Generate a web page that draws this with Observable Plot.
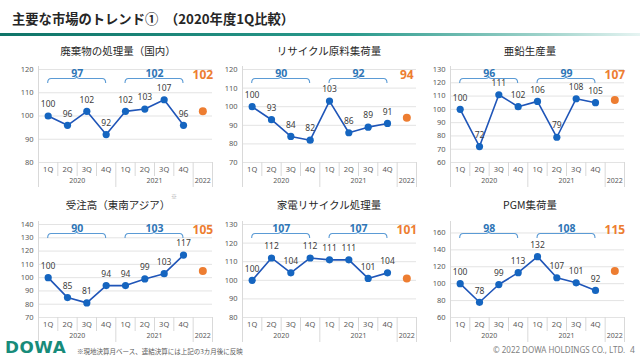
<!DOCTYPE html>
<html><head><meta charset="utf-8">
<script src="https://cdn.jsdelivr.net/npm/d3@7"></script>
<script src="https://cdn.jsdelivr.net/npm/@observablehq/plot@0.6"></script>
<style>
body{margin:0;width:640px;height:360px;background:#fff;position:relative;overflow:hidden;font-family:"Noto Sans CJK JP","Noto Sans",sans-serif;}
.abs{position:absolute;white-space:nowrap;}
.ptitle{position:absolute;font-size:10.5px;color:#262626;transform:translate(-50%,-50%);white-space:nowrap;}
</style></head><body>
<div class="abs" style="left:12px;top:9px;font-size:13.3px;font-weight:bold;color:#262626;line-height:20px;">主要な市場のトレンド①　（2020年度1Q比較）</div>
<div class="abs" style="left:0;top:33px;width:640px;height:2.5px;background:linear-gradient(90deg,#0f7468 0%,#2a9a8c 55%,#9fd3cb 85%,#e6f4f2 100%)"></div>
<div id="root"></div>
<div class="abs" style="left:171px;top:192px;font-size:6px;color:#a6a6a6;">※</div>
<div class="abs" style="left:5px;top:339px;font-family:'DejaVu Sans';font-weight:bold;font-size:15px;letter-spacing:0.5px;color:#178b7a;line-height:18px;transform:scaleX(1.12);transform-origin:left;">DOWA</div>
<div class="abs" style="left:77px;top:346px;font-size:6.5px;color:#595959;line-height:10px;">※現地決算月ベース、連結決算には上記の3カ月後に反映</div>
<div class="abs" style="left:493px;top:344px;font-size:8px;color:#7f7f7f;line-height:12px;font-family:'Noto Sans';">© 2022 DOWA HOLDINGS CO., LTD.</div>
<div class="abs" style="left:630px;top:344px;font-size:8.5px;color:#7f7f7f;line-height:12px;font-family:'Noto Sans';">4</div>
<script>
// ---- data ----
const quarterLabels = ["1Q","2Q","3Q","4Q","1Q","2Q","3Q","4Q"];
const yearLabels = ["2020","2021","2022"];
const panelTitles = ["廃棄物の処理量（国内）","リサイクル原料集荷量","亜鉛生産量","受注高（東南アジア）","家電リサイクル処理量","PGM集荷量"];

const wasteQ     = [100, 96, 102, 92, 102, 103, 107, 96];
const recycleQ   = [100, 93, 84, 82, 103, 86, 89, 91];
const zincQ      = [100, 72, 111, 102, 106, 79, 108, 105];
const ordersQ    = [100, 85, 81, 94, 94, 99, 103, 117];
const applianceQ = [100, 112, 104, 112, 111, 111, 101, 104];
const pgmQ       = [100, 78, 99, 113, 132, 107, 101, 92];

const wasteAvg = [97, 102];
const recycleAvg = [90, 92];
const zincAvg = [96, 99];
const ordersAvg = [90, 103];
const applianceAvg = [107, 107];
const pgmAvg = [98, 108];

const fy2022 = [102, 94, 107, 105, 101, 115];

const wasteTicks = [80, 90, 100, 110, 120];
const recycleTicks = [70, 80, 90, 100, 110, 120];
const zincTicks = [60, 70, 80, 90, 100, 110, 120, 130];
const ordersTicks = [70, 80, 90, 100, 110, 120, 130, 140];
const applianceTicks = [80, 90, 100, 110, 120, 130];
const pgmTicks = [60, 80, 100, 120, 140, 160];
const pgmDomainMax = 170;

// ---- layout ----
const BLUE_LINE = "#1f55b8", BLUE_DOT = "#1565c0", BRACE = "#5b9bd5", AVG = "#2e75b6", ORANGE = "#ed7d31";
const W = 215, H = 150, ML = 38, MR = 3, MT = 29, MB = 28;
const FH = H - MT - MB;

const panels = [
  {t: panelTitles[0], q: wasteQ, avg: wasteAvg, v22: fy2022[0], ticks: wasteTicks, max: 120, left: 0, top: 40, tx: 118, ty: 49.5},
  {t: panelTitles[1], q: recycleQ, avg: recycleAvg, v22: fy2022[1], ticks: recycleTicks, max: 120, left: 204, top: 40, tx: 329, ty: 49.5},
  {t: panelTitles[2], q: zincQ, avg: zincAvg, v22: fy2022[2], ticks: zincTicks, max: 130, left: 412, top: 40, tx: 530, ty: 49.5},
  {t: panelTitles[3], q: ordersQ, avg: ordersAvg, v22: fy2022[3], ticks: ordersTicks, max: 140, left: 0, top: 195, tx: 118, ty: 203.5},
  {t: panelTitles[4], q: applianceQ, avg: applianceAvg, v22: fy2022[4], ticks: applianceTicks, max: 130, left: 204, top: 195, tx: 329, ty: 203.5},
  {t: panelTitles[5], q: pgmQ, avg: pgmAvg, v22: fy2022[5], ticks: pgmTicks, max: pgmDomainMax, left: 412, top: 195, tx: 530, ty: 203.5}
];

const root = document.getElementById("root");

for (const p of panels) {
  const pts = p.q.map((v, i) => ({i, v}));
  const qLab = quarterLabels.map((t, i) => ({i, t}));
  const yLab = [{i: 1.5, t: yearLabels[0]}, {i: 5.5, t: yearLabels[1]}, {i: 8, t: yearLabels[2]}];
  const avgLab = [{i: 1.5, t: p.avg[0]}, {i: 5.5, t: p.avg[1]}];
  const shortSeps = [0.5, 1.5, 2.5, 4.5, 5.5, 6.5];
  const longSeps = [3.5, 7.5, 8.5];

  const brace = (index, scales, values, dimensions) => {
    const g = d3.create("svg:g");
    const y = dimensions.marginTop + 9.5;
    for (const [a, b] of [[0, 3], [4, 7]]) {
      const x1 = scales.x(a), x2 = scales.x(b), xm = (x1 + x2) / 2;
      g.append("path")
        .attr("fill", "none").attr("stroke", BRACE).attr("stroke-width", 1.1)
        .attr("d", `M${x1},${y + 4.5} Q${x1},${y} ${x1 + 3.5},${y} L${xm - 3},${y} Q${xm},${y} ${xm},${y - 2.5} Q${xm},${y} ${xm + 3},${y} L${x2 - 3.5},${y} Q${x2},${y} ${x2},${y + 4.5}`);
    }
    return g.node();
  };

  const plot = Plot.plot({
    width: W, height: H,
    marginLeft: ML, marginRight: MR, marginTop: MT, marginBottom: MB,
    x: {domain: [-0.5, 8.5], axis: null},
    y: {domain: [p.ticks[0], p.max], ticks: p.ticks, tickSize: 0, tickPadding: 5, label: null, tickFormat: d => String(d)},
    style: {fontFamily: "'Noto Sans', sans-serif", fontSize: "7.5px", color: "#595959", background: "transparent", overflow: "visible"},
    marks: [
      Plot.ruleY(p.ticks, {stroke: "#e3e3e3", strokeWidth: 1}),
      Plot.ruleX([-0.5], {stroke: "#d9d9d9", insetTop: -3, insetBottom: -25}),
      Plot.ruleX(longSeps, {stroke: "#d9d9d9", insetTop: FH, insetBottom: -25}),
      Plot.ruleX(shortSeps, {stroke: "#d9d9d9", insetTop: FH, insetBottom: -14}),
      Plot.text(qLab, {x: "i", text: "t", frameAnchor: "bottom", dy: 9, fontSize: 7.5, fill: "#595959"}),
      Plot.text(yLab, {x: "i", text: "t", frameAnchor: "bottom", dy: 20.5, fontSize: 7, fill: "#595959"}),
      brace,
      Plot.text(avgLab, {x: "i", text: "t", frameAnchor: "top", dy: 0, fontSize: 10.5, fontWeight: "bold", fill: AVG}),
      Plot.text([{i: 8, t: p.v22}], {x: "i", text: "t", frameAnchor: "top", dy: 1, fontSize: 12, fontWeight: "bold", fill: ORANGE}),
      Plot.line(pts, {x: "i", y: "v", stroke: BLUE_LINE, strokeWidth: 1.6}),
      Plot.dot(pts, {x: "i", y: "v", r: 3.6, fill: BLUE_DOT, stroke: "none"}),
      Plot.text(pts, {x: "i", y: "v", text: "v", dy: -11.5, fontSize: 8.5, fill: "#404040"}),
      Plot.dot([{i: 8, v: p.v22}], {x: "i", y: "v", r: 4, fill: ORANGE, stroke: "none"})
    ]
  });
  const wrap = document.createElement("div");
  wrap.className = "abs";
  wrap.style.left = p.left + "px";
  wrap.style.top = p.top + "px";
  wrap.appendChild(plot);
  root.appendChild(wrap);

  const tt = document.createElement("div");
  tt.className = "ptitle";
  tt.style.left = p.tx + "px";
  tt.style.top = p.ty + "px";
  tt.textContent = p.t;
  root.appendChild(tt);
}
</script>
</body></html>
